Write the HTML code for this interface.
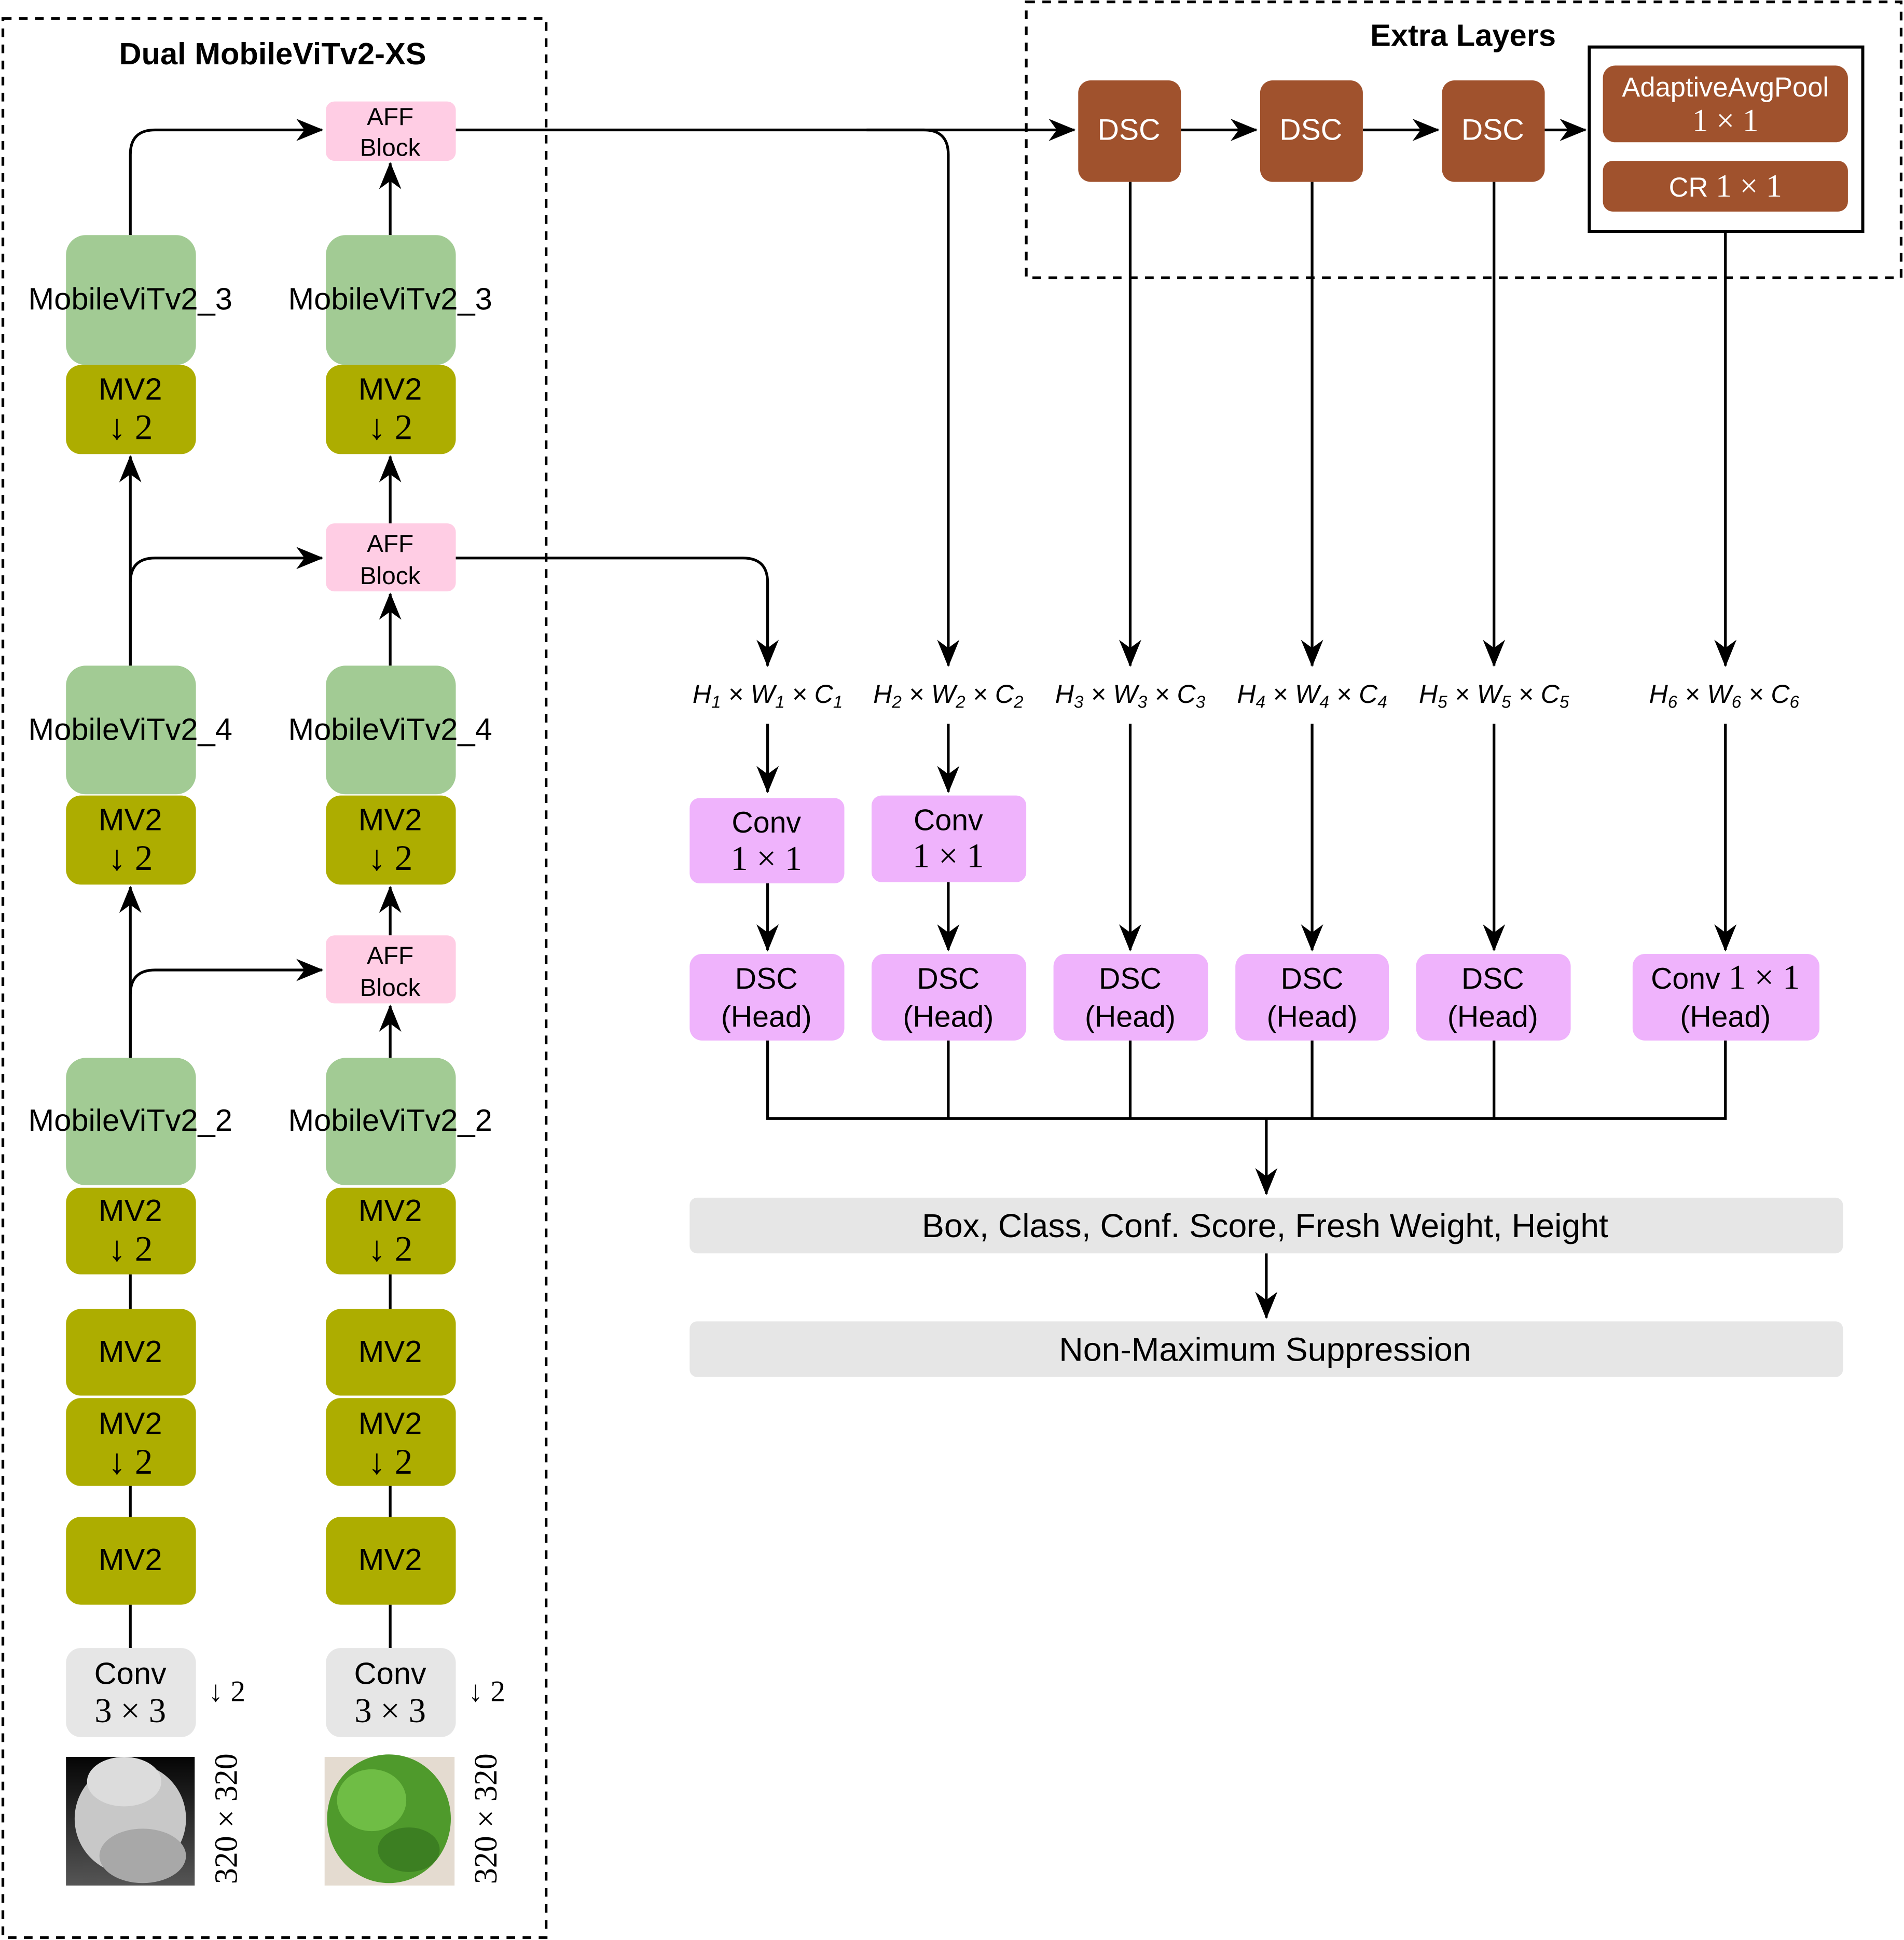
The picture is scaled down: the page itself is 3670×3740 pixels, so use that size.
<!DOCTYPE html>
<html><head><meta charset="utf-8">
<style>
html,body{margin:0;padding:0;background:#fff;}
svg{display:block;}
text{font-family:"Liberation Sans",sans-serif;}
.m{font-family:"Liberation Serif",serif;font-style:italic;font-size:21px;}
.s{font-family:"Liberation Serif",serif;}
</style></head>
<body>
<svg width="3670" height="3740" viewBox="0 0 1538 1568" xmlns="http://www.w3.org/2000/svg">
<defs>
<marker id="b" viewBox="0 0 10 10" refX="9.5" refY="5" markerWidth="22" markerHeight="18" markerUnits="userSpaceOnUse" orient="auto" preserveAspectRatio="none">
<path d="M0,0 L10,5 L0,10 L3,5 z" fill="#000"/>
</marker>
<linearGradient id="dg" x1="0" y1="0" x2="0" y2="1"><stop offset="0" stop-color="#050505"/><stop offset="1" stop-color="#555"/></linearGradient>
</defs>
<rect width="1538" height="1568" fill="#fff"/>

<rect x="2" y="15" width="439" height="1551" fill="none" stroke="#000" stroke-width="2.2" stroke-dasharray="7,6"/>
<rect x="829" y="1.5" width="707" height="223" fill="none" stroke="#000" stroke-width="2.2" stroke-dasharray="7,6"/>
<text x="220" y="52" font-size="25" font-weight="bold" text-anchor="middle">Dual MobileViTv2-XS</text>
<text x="1182" y="37" font-size="25" font-weight="bold" text-anchor="middle">Extra Layers</text>

<g stroke="#000" stroke-width="2.2" fill="none">
<path d="M105,190 V125 Q105,105 125,105 H260" marker-end="url(#b)"/>
<path d="M315,190 V132" marker-end="url(#b)"/>
<path d="M105,538 V369" marker-end="url(#b)"/>
<path d="M105,538 V471 Q105,451 125,451 H260" marker-end="url(#b)"/>
<path d="M315,423 V369" marker-end="url(#b)"/>
<path d="M315,538 V480" marker-end="url(#b)"/>
<path d="M105,855 V717" marker-end="url(#b)"/>
<path d="M105,855 V804 Q105,784 125,784 H260" marker-end="url(#b)"/>
<path d="M315,756 V717" marker-end="url(#b)"/>
<path d="M315,855 V813" marker-end="url(#b)"/>
<path d="M105,1030 V1058 M105,1201 V1226 M105,1297 V1332"/>
<path d="M315,1030 V1058 M315,1201 V1226 M315,1297 V1332"/>
<path d="M368,105 H868" marker-end="url(#b)"/>
<path d="M700,105 H746 Q766,105 766,125 V538" marker-end="url(#b)"/>
<path d="M368,451 H600 Q620,451 620,471 V538" marker-end="url(#b)"/>
<path d="M954,105 H1015" marker-end="url(#b)"/>
<path d="M1101,105 H1162" marker-end="url(#b)"/>
<path d="M1248,105 H1281" marker-end="url(#b)"/>
<path d="M913,147 V538" marker-end="url(#b)"/>
<path d="M1060,147 V538" marker-end="url(#b)"/>
<path d="M1207,147 V538" marker-end="url(#b)"/>
<path d="M1394,187 V538" marker-end="url(#b)"/>
<path d="M620,585 V640" marker-end="url(#b)"/>
<path d="M766,585 V640" marker-end="url(#b)"/>
<path d="M620,714 V768" marker-end="url(#b)"/>
<path d="M766,713 V768" marker-end="url(#b)"/>
<path d="M913,585 V768" marker-end="url(#b)"/>
<path d="M1060,585 V768" marker-end="url(#b)"/>
<path d="M1207,585 V768" marker-end="url(#b)"/>
<path d="M1394,585 V768" marker-end="url(#b)"/>
<path d="M620,841 V904 H1394 V841 M766,841 V904 M913,841 V904 M1060,841 V904 M1207,841 V904"/>
<path d="M1023,904 V965" marker-end="url(#b)"/>
<path d="M1023,1013 V1065" marker-end="url(#b)"/>
</g>

<g fill="#ffcde4">
<rect x="263" y="82" width="105" height="48" rx="7"/>
<rect x="263" y="423" width="105" height="55" rx="7"/>
<rect x="263" y="756" width="105" height="55" rx="7"/>
</g>
<g font-size="20" text-anchor="middle">
<text x="315" y="101">AFF</text><text x="315" y="126">Block</text>
<text x="315" y="446">AFF</text><text x="315" y="472">Block</text>
<text x="315" y="779">AFF</text><text x="315" y="805">Block</text>
</g>

<g fill="#a2cb94">
<rect x="53" y="190" width="105" height="105" rx="16"/>
<rect x="263" y="190" width="105" height="105" rx="16"/>
<rect x="53" y="538" width="105" height="104" rx="16"/>
<rect x="263" y="538" width="105" height="104" rx="16"/>
<rect x="53" y="855" width="105" height="103" rx="16"/>
<rect x="263" y="855" width="105" height="103" rx="16"/>
</g>
<g font-size="25" text-anchor="middle">
<text x="105" y="250">MobileViTv2_3</text><text x="315" y="250">MobileViTv2_3</text>
<text x="105" y="598">MobileViTv2_4</text><text x="315" y="598">MobileViTv2_4</text>
<text x="105" y="914">MobileViTv2_2</text><text x="315" y="914">MobileViTv2_2</text>
</g>

<g fill="#adad00">
<rect x="53" y="295" width="105" height="72" rx="12"/><rect x="263" y="295" width="105" height="72" rx="12"/>
<rect x="53" y="643" width="105" height="72" rx="12"/><rect x="263" y="643" width="105" height="72" rx="12"/>
<rect x="53" y="960" width="105" height="70" rx="12"/><rect x="263" y="960" width="105" height="70" rx="12"/>
<rect x="53" y="1058" width="105" height="70" rx="12"/><rect x="263" y="1058" width="105" height="70" rx="12"/>
<rect x="53" y="1130" width="105" height="71" rx="12"/><rect x="263" y="1130" width="105" height="71" rx="12"/>
<rect x="53" y="1226" width="105" height="71" rx="12"/><rect x="263" y="1226" width="105" height="71" rx="12"/>
</g>
<g font-size="25" text-anchor="middle">
<text x="105" y="323">MV2</text><text x="315" y="323">MV2</text>
<text x="105" y="355" class="s" font-size="29">↓ 2</text><text x="315" y="355" class="s" font-size="29">↓ 2</text>
<text x="105" y="671">MV2</text><text x="315" y="671">MV2</text>
<text x="105" y="703" class="s" font-size="29">↓ 2</text><text x="315" y="703" class="s" font-size="29">↓ 2</text>
<text x="105" y="987">MV2</text><text x="315" y="987">MV2</text>
<text x="105" y="1019" class="s" font-size="29">↓ 2</text><text x="315" y="1019" class="s" font-size="29">↓ 2</text>
<text x="105" y="1101">MV2</text><text x="315" y="1101">MV2</text>
<text x="105" y="1159">MV2</text><text x="315" y="1159">MV2</text>
<text x="105" y="1191" class="s" font-size="29">↓ 2</text><text x="315" y="1191" class="s" font-size="29">↓ 2</text>
<text x="105" y="1269">MV2</text><text x="315" y="1269">MV2</text>
</g>

<g fill="#e6e6e6">
<rect x="53" y="1332" width="105" height="72" rx="12"/><rect x="263" y="1332" width="105" height="72" rx="12"/>
</g>
<g font-size="25" text-anchor="middle">
<text x="105" y="1361">Conv</text><text x="315" y="1361">Conv</text>
<text x="105" y="1392" class="s" font-size="28">3 × 3</text><text x="315" y="1392" class="s" font-size="28">3 × 3</text>
<text x="183" y="1375" class="s" font-size="24">↓ 2</text><text x="393" y="1375" class="s" font-size="24">↓ 2</text>
</g>
<rect x="53" y="1420" width="104" height="104" fill="url(#dg)"/>
<g fill="#c8c8c8">
<ellipse cx="105" cy="1470" rx="45" ry="45"/>
<ellipse cx="100" cy="1440" rx="30" ry="20" fill="#dcdcdc"/>
<ellipse cx="115" cy="1500" rx="35" ry="22" fill="#a8a8a8"/>
</g>
<rect x="262" y="1420" width="105" height="104" fill="#e4dbd0"/>
<g fill="#4f9a2c">
<ellipse cx="314" cy="1470" rx="50" ry="52"/>
<ellipse cx="300" cy="1455" rx="28" ry="25" fill="#6fbd45"/>
<ellipse cx="330" cy="1495" rx="25" ry="18" fill="#3c7f22"/>
</g>
<text transform="translate(191,1470) rotate(-90)" class="s" font-size="26" text-anchor="middle">320 × 320</text>
<text transform="translate(401,1470) rotate(-90)" class="s" font-size="26" text-anchor="middle">320 × 320</text>

<g fill="#a0522d">
<rect x="871" y="65" width="83" height="82" rx="10"/>
<rect x="1018" y="65" width="83" height="82" rx="10"/>
<rect x="1165" y="65" width="83" height="82" rx="10"/>
</g>
<rect x="1284" y="38" width="221" height="149" fill="none" stroke="#000" stroke-width="2.5"/>
<rect x="1295" y="53" width="198" height="62" rx="10" fill="#a0522d"/>
<rect x="1295" y="130" width="198" height="41" rx="8" fill="#a0522d"/>
<g fill="#fff" font-size="24" text-anchor="middle">
<text x="912" y="113">DSC</text><text x="1059" y="113">DSC</text><text x="1206" y="113">DSC</text>
<text x="1394" y="78" font-size="22">AdaptiveAvgPool</text>
<text x="1394" y="106" class="s" font-size="26">1 × 1</text>
<text x="1394" y="159" font-size="22">CR <tspan class="s" font-size="26">1 × 1</tspan></text>
</g>

<g class="m" text-anchor="middle">
<text x="620" y="568">H<tspan font-size="14" dy="4">1</tspan><tspan dy="-4"> × W</tspan><tspan font-size="14" dy="4">1</tspan><tspan dy="-4"> × C</tspan><tspan font-size="14" dy="4">1</tspan></text>
<text x="766" y="568">H<tspan font-size="14" dy="4">2</tspan><tspan dy="-4"> × W</tspan><tspan font-size="14" dy="4">2</tspan><tspan dy="-4"> × C</tspan><tspan font-size="14" dy="4">2</tspan></text>
<text x="913" y="568">H<tspan font-size="14" dy="4">3</tspan><tspan dy="-4"> × W</tspan><tspan font-size="14" dy="4">3</tspan><tspan dy="-4"> × C</tspan><tspan font-size="14" dy="4">3</tspan></text>
<text x="1060" y="568">H<tspan font-size="14" dy="4">4</tspan><tspan dy="-4"> × W</tspan><tspan font-size="14" dy="4">4</tspan><tspan dy="-4"> × C</tspan><tspan font-size="14" dy="4">4</tspan></text>
<text x="1207" y="568">H<tspan font-size="14" dy="4">5</tspan><tspan dy="-4"> × W</tspan><tspan font-size="14" dy="4">5</tspan><tspan dy="-4"> × C</tspan><tspan font-size="14" dy="4">5</tspan></text>
<text x="1393" y="568">H<tspan font-size="14" dy="4">6</tspan><tspan dy="-4"> × W</tspan><tspan font-size="14" dy="4">6</tspan><tspan dy="-4"> × C</tspan><tspan font-size="14" dy="4">6</tspan></text>
</g>

<g fill="#efb3fc">
<rect x="557" y="645" width="125" height="69" rx="8"/>
<rect x="704" y="643" width="125" height="70" rx="8"/>
<rect x="557" y="771" width="125" height="70" rx="10"/>
<rect x="704" y="771" width="125" height="70" rx="10"/>
<rect x="851" y="771" width="125" height="70" rx="10"/>
<rect x="998" y="771" width="124" height="70" rx="10"/>
<rect x="1144" y="771" width="125" height="70" rx="10"/>
<rect x="1319" y="771" width="151" height="70" rx="10"/>
</g>
<g font-size="24" text-anchor="middle">
<text x="619" y="673">Conv</text><text x="619" y="703" class="s" font-size="28">1 × 1</text>
<text x="766" y="671">Conv</text><text x="766" y="701" class="s" font-size="28">1 × 1</text>
<text x="619" y="799">DSC</text><text x="619" y="830">(Head)</text>
<text x="766" y="799">DSC</text><text x="766" y="830">(Head)</text>
<text x="913" y="799">DSC</text><text x="913" y="830">(Head)</text>
<text x="1060" y="799">DSC</text><text x="1060" y="830">(Head)</text>
<text x="1206" y="799">DSC</text><text x="1206" y="830">(Head)</text>
<text x="1394" y="799">Conv <tspan class="s" font-size="28">1 × 1</tspan></text><text x="1394" y="830">(Head)</text>
</g>

<rect x="557" y="968" width="932" height="45" rx="6" fill="#e6e6e6"/>
<rect x="557" y="1068" width="932" height="45" rx="6" fill="#e6e6e6"/>
<g font-size="27" text-anchor="middle">
<text x="1022" y="1000">Box, Class, Conf. Score, Fresh Weight, Height</text>
<text x="1022" y="1100">Non-Maximum Suppression</text>
</g>
</svg>
</body></html>
